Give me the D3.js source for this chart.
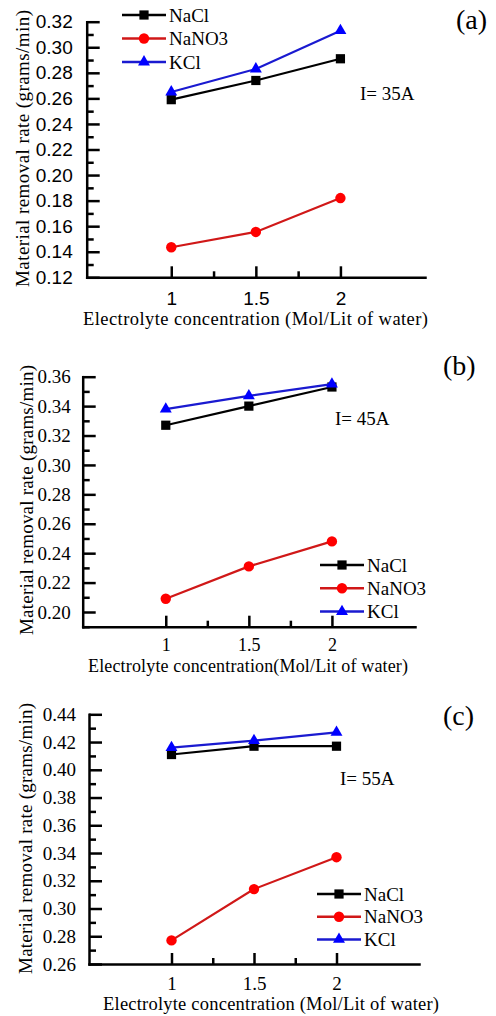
<!DOCTYPE html>
<html>
<head>
<meta charset="utf-8">
<script src="https://cdn.jsdelivr.net/npm/d3@7"></script>
<style>
  body { margin: 0; background: #fff; }
  .axis path, .axis line { stroke: #000; stroke-width: 2.5; }
  .axis path { stroke-linecap: square; }
  .serif { font-family: "Liberation Serif", "Times New Roman", serif; }
  .sans { font-family: "Liberation Sans", Arial, sans-serif; }
</style>
</head>
<body>
<script>
// concentrations on the x axis (Mol/Lit of water)
const concentration = [1, 1.5, 2];
const xTicks = [1, 1.5, 2];
const xMinorTicks = [1.25, 1.75];
const seriesNames = ["NaCl", "NaNO3", "KCl"];

// I = 35A
const naclA = [0.259, 0.274, 0.291];
const nano3A = [0.1435, 0.1555, 0.182];
const kclA = [0.265, 0.283, 0.313];
const yTicksA = [0.12, 0.14, 0.16, 0.18, 0.20, 0.22, 0.24, 0.26, 0.28, 0.30, 0.32];

// I = 45A
const naclB = [0.327, 0.340, 0.353];
const nano3B = [0.209, 0.231, 0.248];
const kclB = [0.338, 0.347, 0.355];
const yTicksB = [0.20, 0.22, 0.24, 0.26, 0.28, 0.30, 0.32, 0.34, 0.36];

// I = 55A
const naclC = [0.411, 0.417, 0.417];
const nano3C = [0.277, 0.314, 0.337];
const kclC = [0.416, 0.421, 0.427];
const yTicksC = [0.26, 0.28, 0.30, 0.32, 0.34, 0.36, 0.38, 0.40, 0.42, 0.44];

const lineColors = ["#000000", "#d01818", "#1a1ad0"];
const markerColors = ["#000000", "#ff0000", "#0000ff"];
const markerTypes = [d3.symbolSquare, d3.symbolCircle, d3.symbolTriangle];
const markerSizes = [85, 85, 62];

const svg = d3.select("body")
  .append("svg")
  .attr("width", 496)
  .attr("height", 1016);

svg.append("rect").attr("width", 496).attr("height", 1016).attr("fill", "#fff");

function drawPanel(p) {
  const g = svg.append("g");

  let x = d3.scaleLinear().domain([0.5, 2.5]).range([p.left, p.right]);
  let y = d3.scaleLinear().domain([p.yMin, p.yMax]).range([p.bottom, p.top]);

  // minor ticks halfway between the labelled ones
  let yMinor = p.yTicks.slice(0, -1).map(function(d) { return d + 0.01; });
  if (p.yMin < p.yTicks[0]) yMinor.unshift(p.yTicks[0] - 0.01);

  g.append("g")
    .attr("class", "axis")
    .attr("transform", "translate(" + p.left + ",0)")
    .call(d3.axisLeft(y).tickValues(yMinor).tickSize(-7).tickSizeOuter(0).tickFormat(""))
    .select(".domain").remove();

  g.append("g")
    .attr("class", "axis " + p.tickFont)
    .attr("transform", "translate(" + p.left + ",0)")
    .call(d3.axisLeft(y).tickValues(p.yTicks).tickSize(-13).tickSizeOuter(0)
      .tickPadding(p.yPad).tickFormat(d3.format(".2f")))
    .selectAll("text").attr("font-size", 19).attr("fill", "#000");

  g.append("g")
    .attr("class", "axis")
    .attr("transform", "translate(0," + p.bottom + ")")
    .call(d3.axisBottom(x).tickValues(xMinorTicks).tickSize(-6).tickSizeOuter(0).tickFormat(""))
    .select(".domain").remove();

  g.append("g")
    .attr("class", "axis " + p.tickFont)
    .attr("transform", "translate(0," + p.bottom + ")")
    .call(d3.axisBottom(x).tickValues(xTicks).tickSize(-11).tickSizeOuter(0)
      .tickPadding(p.xPad).tickFormat(function(d) { return d; }))
    .selectAll("text").attr("font-size", p.xTickSize).attr("fill", "#000");

  // data
  let line = d3.line()
    .x(function(d) { return x(d[0]); })
    .y(function(d) { return y(d[1]); });

  p.series.forEach(function(values, i) {
    let pts = concentration.map(function(c, j) { return [c, values[j]]; });
    g.append("path")
      .attr("d", line(pts))
      .attr("fill", "none")
      .attr("stroke", lineColors[i])
      .attr("stroke-width", 2.2);
    g.selectAll(".m" + i)
      .data(pts)
      .enter().append("path")
        .attr("class", "m" + i)
        .attr("d", d3.symbol().type(markerTypes[i]).size(markerSizes[i]))
        .attr("transform", function(d) { return "translate(" + x(d[0]) + "," + y(d[1]) + ")"; })
        .attr("fill", markerColors[i]);
  });

  // legend
  seriesNames.forEach(function(name, i) {
    let ly = p.legendY + i * p.legendStep;
    g.append("line")
      .attr("x1", p.legendX).attr("x2", p.legendX + 44)
      .attr("y1", ly).attr("y2", ly)
      .attr("stroke", lineColors[i])
      .attr("stroke-width", 2.5);
    g.append("path")
      .attr("d", d3.symbol().type(markerTypes[i]).size(markerSizes[i]))
      .attr("transform", "translate(" + (p.legendX + 22) + "," + ly + ")")
      .attr("fill", markerColors[i]);
    g.append("text")
      .attr("class", "serif")
      .attr("x", p.legendX + 47)
      .attr("y", ly + 6.5)
      .attr("font-size", 19)
      .text(name);
  });

  // titles and labels
  g.append("text")
    .attr("class", "serif")
    .attr("transform", "translate(" + p.yTitleX + "," + p.yTitleY + ") rotate(-90)")
    .attr("text-anchor", "middle")
    .attr("font-size", 19)
    .attr("textLength", p.yTitleLen)
    .attr("lengthAdjust", "spacing")
    .text("Material  removal  rate (grams/min)");

  g.append("text")
    .attr("class", "serif")
    .attr("x", p.xTitleX)
    .attr("y", p.xTitleY)
    .attr("font-size", p.xTitleSize)
    .attr("textLength", p.xTitleLen)
    .attr("lengthAdjust", "spacing")
    .text(p.xTitle);

  g.append("text")
    .attr("class", "serif")
    .attr("x", p.currentX)
    .attr("y", p.currentY)
    .attr("font-size", 19)
    .text(p.current);

  g.append("text")
    .attr("class", "serif")
    .attr("x", p.tagX)
    .attr("y", p.tagY)
    .attr("font-size", 28)
    .text(p.tag);
}

drawPanel({
  left: 86.7, right: 425, top: 21.7, bottom: 277.3,
  yMin: 0.12, yMax: 0.32, yTicks: yTicksA,
  series: [naclA, nano3A, kclA],
  tickFont: "sans", yPad: 14, xPad: 14, xTickSize: 19,
  legendX: 122, legendY: 15, legendStep: 23.5,
  yTitleX: 29, yTitleY: 148.5, yTitleLen: 277,
  xTitle: "Electrolyte  concentration (Mol/Lit  of  water)", xTitleX: 83, xTitleY: 325, xTitleLen: 345, xTitleSize: 18.5,
  current: "I= 35A", currentX: 360, currentY: 100,
  tag: "(a)", tagX: 456, tagY: 29
});

drawPanel({
  left: 82.7, right: 415, top: 376.7, bottom: 626.7,
  yMin: 0.19, yMax: 0.36, yTicks: yTicksB,
  series: [naclB, nano3B, kclB],
  tickFont: "serif", yPad: 12, xPad: 12, xTickSize: 18,
  legendX: 320, legendY: 565, legendStep: 23.3,
  yTitleX: 33, yTitleY: 500, yTitleLen: 270,
  xTitle: "Electrolyte concentration(Mol/Lit of water)", xTitleX: 88, xTitleY: 672, xTitleLen: 320, xTitleSize: 18,
  current: "I= 45A", currentX: 335, currentY: 425,
  tag: "(b)", tagX: 443, tagY: 375
});

drawPanel({
  left: 89, right: 419, top: 714.3, bottom: 964,
  yMin: 0.26, yMax: 0.44, yTicks: yTicksC,
  series: [naclC, nano3C, kclC],
  tickFont: "serif", yPad: 13, xPad: 13, xTickSize: 19,
  legendX: 317, legendY: 894, legendStep: 22.7,
  yTitleX: 32, yTitleY: 838.5, yTitleLen: 271,
  xTitle: "Electrolyte  concentration (Mol/Lit  of  water)", xTitleX: 103, xTitleY: 1010, xTitleLen: 336, xTitleSize: 18.5,
  current: "I= 55A", currentX: 340, currentY: 785,
  tag: "(c)", tagX: 443, tagY: 725
});
</script>
</body>
</html>
